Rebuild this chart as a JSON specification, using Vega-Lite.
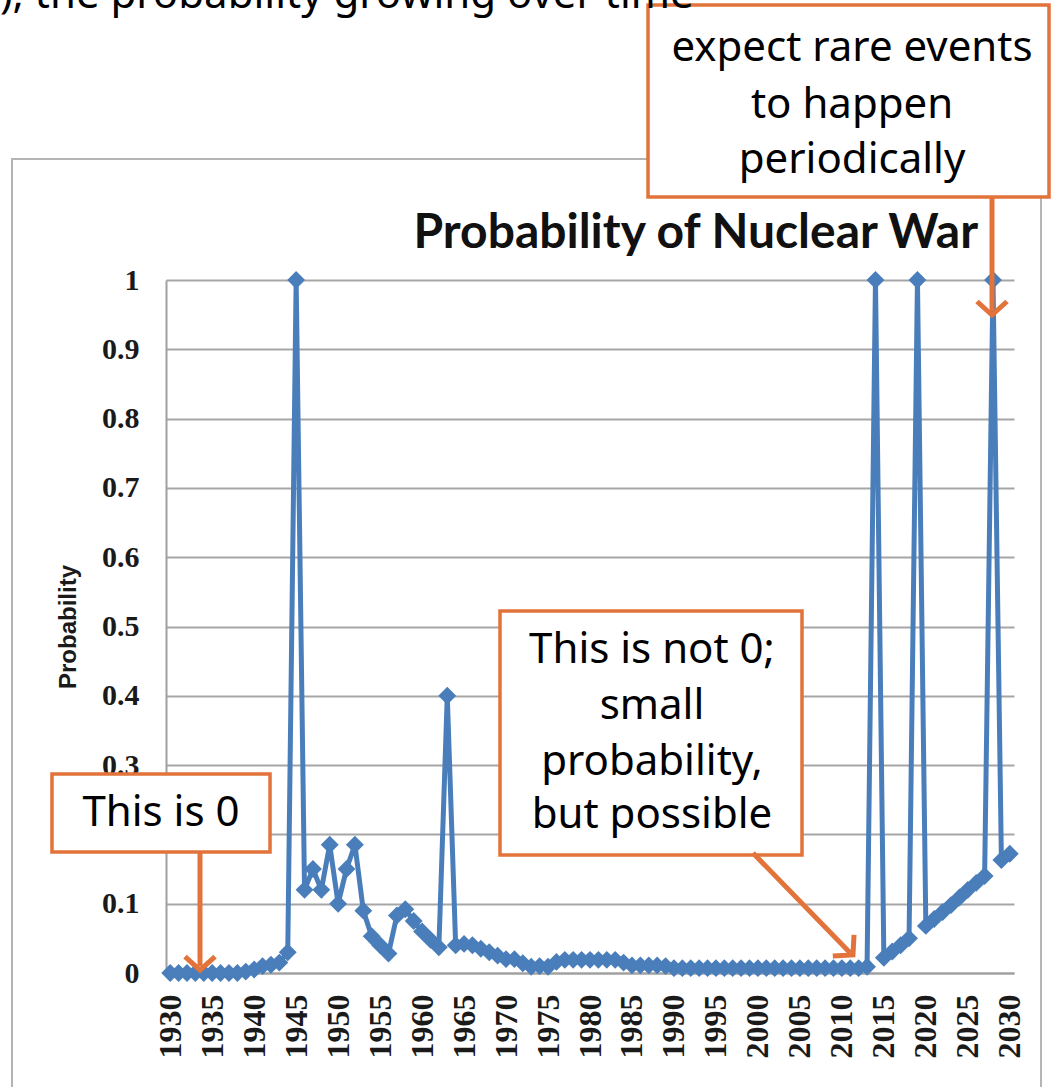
{
  "$schema": "https://vega.github.io/schema/vega-lite/v6.json",
  "width": 848,
  "height": 693,
  "autosize": "none",
  "padding": {"left": 166, "top": 280, "right": 38, "bottom": 114},
  "background": "white",
  "config": {"view": {"stroke": null}},
  "datasets": {
    "war": [
      {"year": 1930, "p": 0}, {"year": 1931, "p": 0}, {"year": 1932, "p": 0}, {"year": 1933, "p": 0},
      {"year": 1934, "p": 0}, {"year": 1935, "p": 0}, {"year": 1936, "p": 0}, {"year": 1937, "p": 0},
      {"year": 1938, "p": 0}, {"year": 1939, "p": 0.002}, {"year": 1940, "p": 0.005}, {"year": 1941, "p": 0.01},
      {"year": 1942, "p": 0.012}, {"year": 1943, "p": 0.015}, {"year": 1944, "p": 0.03}, {"year": 1945, "p": 1},
      {"year": 1946, "p": 0.12}, {"year": 1947, "p": 0.15}, {"year": 1948, "p": 0.12}, {"year": 1949, "p": 0.185},
      {"year": 1950, "p": 0.1}, {"year": 1951, "p": 0.15}, {"year": 1952, "p": 0.185}, {"year": 1953, "p": 0.09},
      {"year": 1954, "p": 0.053}, {"year": 1955, "p": 0.04}, {"year": 1956, "p": 0.028}, {"year": 1957, "p": 0.083},
      {"year": 1958, "p": 0.092}, {"year": 1959, "p": 0.075}, {"year": 1960, "p": 0.06}, {"year": 1961, "p": 0.048},
      {"year": 1962, "p": 0.037}, {"year": 1963, "p": 0.4}, {"year": 1964, "p": 0.04}, {"year": 1965, "p": 0.042},
      {"year": 1966, "p": 0.04}, {"year": 1967, "p": 0.035}, {"year": 1968, "p": 0.03}, {"year": 1969, "p": 0.025},
      {"year": 1970, "p": 0.02}, {"year": 1971, "p": 0.02}, {"year": 1972, "p": 0.014}, {"year": 1973, "p": 0.009},
      {"year": 1974, "p": 0.01}, {"year": 1975, "p": 0.009}, {"year": 1976, "p": 0.016}, {"year": 1977, "p": 0.019},
      {"year": 1978, "p": 0.019}, {"year": 1979, "p": 0.019}, {"year": 1980, "p": 0.019}, {"year": 1981, "p": 0.019},
      {"year": 1982, "p": 0.019}, {"year": 1983, "p": 0.019}, {"year": 1984, "p": 0.015}, {"year": 1985, "p": 0.011},
      {"year": 1986, "p": 0.011}, {"year": 1987, "p": 0.011}, {"year": 1988, "p": 0.011}, {"year": 1989, "p": 0.01},
      {"year": 1990, "p": 0.007}, {"year": 1991, "p": 0.007}, {"year": 1992, "p": 0.007}, {"year": 1993, "p": 0.007},
      {"year": 1994, "p": 0.007}, {"year": 1995, "p": 0.007}, {"year": 1996, "p": 0.007}, {"year": 1997, "p": 0.007},
      {"year": 1998, "p": 0.007}, {"year": 1999, "p": 0.007}, {"year": 2000, "p": 0.007}, {"year": 2001, "p": 0.007},
      {"year": 2002, "p": 0.007}, {"year": 2003, "p": 0.007}, {"year": 2004, "p": 0.007}, {"year": 2005, "p": 0.007},
      {"year": 2006, "p": 0.007}, {"year": 2007, "p": 0.007}, {"year": 2008, "p": 0.007}, {"year": 2009, "p": 0.007},
      {"year": 2010, "p": 0.007}, {"year": 2011, "p": 0.007}, {"year": 2012, "p": 0.007}, {"year": 2013, "p": 0.009},
      {"year": 2014, "p": 1}, {"year": 2015, "p": 0.022}, {"year": 2016, "p": 0.031}, {"year": 2017, "p": 0.04},
      {"year": 2018, "p": 0.05}, {"year": 2019, "p": 1}, {"year": 2020, "p": 0.068}, {"year": 2021, "p": 0.078},
      {"year": 2022, "p": 0.088}, {"year": 2023, "p": 0.098}, {"year": 2024, "p": 0.109}, {"year": 2025, "p": 0.12},
      {"year": 2026, "p": 0.13}, {"year": 2027, "p": 0.14}, {"year": 2028, "p": 1}, {"year": 2029, "p": 0.163},
      {"year": 2030, "p": 0.172}
    ],
    "frame": [{"x1": 1911.16, "x2": 2033.72, "y1": 1.1746, "y2": -0.1833}],
    "boxes": [
      {"x1": 1915.92, "x2": 1941.89, "y1": 0.2872, "y2": 0.1746},
      {"x1": 1969.28, "x2": 2005.25, "y1": 0.5224, "y2": 0.1703},
      {"x1": 1986.91, "x2": 2034.67, "y1": 1.3968, "y2": 1.1198}
    ],
    "notes": [
      {"x": 1928.9, "y": 0.2309, "t": "This is 0"},
      {"x": 1987.38, "y": 0.4661, "t": "This is not 0;"},
      {"x": 1987.38, "y": 0.3853, "t": "small"},
      {"x": 1987.38, "y": 0.3045, "t": "probability,"},
      {"x": 1987.38, "y": 0.2280, "t": "but possible"},
      {"x": 2011.21, "y": 1.3348, "t": "expect rare events"},
      {"x": 2011.21, "y": 1.2525, "t": "to happen"},
      {"x": 2011.21, "y": 1.1732, "t": "periodically"}
    ],
    "heading": [{"x": 1992.6, "y": 1.0462, "t": "Probability of Nuclear War"}],
    "topline": [{"x": 1909.73, "y": 1.3925, "t": "), the probability growing over time"}],
    "arrows": [
      {"x1": 1933.55, "y1": 0.1746, "x2": 1933.55, "y2": 0.01},
      {"x1": 1999.41, "y1": 0.1732, "x2": 2011.0, "y2": 0.029},
      {"x1": 2027.88, "y1": 1.1198, "x2": 2027.88, "y2": 0.955}
    ],
    "vheads": [
      {"x": 1933.55, "y": 0.0043},
      {"x": 2027.88, "y": 0.9495}
    ],
    "dheads": [
      {"x": 2011.32, "y": 0.026}
    ]
  },
  "layer": [
    {
      "data": {"name": "frame"},
      "mark": {"type": "rect", "fill": null, "stroke": "#b4b4b4", "strokeWidth": 2, "clip": false},
      "encoding": {
        "x": {"field": "x1", "type": "quantitative"},
        "x2": {"field": "x2"},
        "y": {"field": "y1", "type": "quantitative"},
        "y2": {"field": "y2"}
      }
    },
    {
      "data": {"name": "war"},
      "mark": {
        "type": "line",
        "color": "#4a7ebb",
        "strokeWidth": 5,
        "point": {"shape": "diamond", "size": 320, "filled": true, "color": "#4a7ebb"}
      },
      "encoding": {
        "x": {
          "field": "year",
          "type": "quantitative",
          "scale": {"domain": [1929.5, 2030.5], "nice": false, "zero": false},
          "axis": {
            "title": null,
            "values": [1930, 1935, 1940, 1945, 1950, 1955, 1960, 1965, 1970, 1975, 1980, 1985, 1990, 1995, 2000, 2005, 2010, 2015, 2020, 2025, 2030],
            "format": "d",
            "labelAngle": 270,
            "labelPadding": 21,
            "labelFont": "Liberation Serif",
            "labelFontWeight": "bold",
            "labelFontSize": 32,
            "labelColor": "#1a1a1a",
            "labelOverlap": false,
            "labelBound": false,
            "labelFlush": false,
            "ticks": false,
            "grid": false,
            "domain": true,
            "domainColor": "#a0a0a0",
            "domainWidth": 2
          }
        },
        "y": {
          "field": "p",
          "type": "quantitative",
          "scale": {"domain": [0, 1], "nice": false},
          "axis": {
            "title": "Probability",
            "titleFont": "Liberation Sans",
            "titleFontWeight": "bold",
            "titleFontSize": 24,
            "titleColor": "#1a1a1a",
            "titlePadding": 21,
            "values": [0, 0.1, 0.2, 0.3, 0.4, 0.5, 0.6, 0.7, 0.8, 0.9, 1],
            "format": "~g",
            "labelPadding": 27,
            "labelFont": "Liberation Serif",
            "labelFontWeight": "bold",
            "labelFontSize": 30,
            "labelColor": "#1a1a1a",
            "labelOverlap": false,
            "labelFlush": false,
            "ticks": false,
            "grid": true,
            "gridColor": "#a6a6a6",
            "gridWidth": 2,
            "domain": true,
            "domainColor": "#a0a0a0",
            "domainWidth": 2
          }
        }
      }
    },
    {
      "data": {"name": "heading"},
      "mark": {"type": "text", "align": "center", "baseline": "alphabetic", "font": "Lato", "fontSize": 48, "fontWeight": "bold", "color": "#111111", "clip": false},
      "encoding": {
        "x": {"field": "x", "type": "quantitative"},
        "y": {"field": "y", "type": "quantitative"},
        "text": {"field": "t"}
      }
    },
    {
      "data": {"name": "boxes"},
      "mark": {"type": "rect", "fill": "white", "stroke": "#e2733a", "strokeWidth": 3.5, "clip": false},
      "encoding": {
        "x": {"field": "x1", "type": "quantitative"},
        "x2": {"field": "x2"},
        "y": {"field": "y1", "type": "quantitative"},
        "y2": {"field": "y2"}
      }
    },
    {
      "data": {"name": "notes"},
      "mark": {"type": "text", "align": "center", "baseline": "middle", "font": "Noto Sans", "fontSize": 42, "color": "#000000", "clip": false},
      "encoding": {
        "x": {"field": "x", "type": "quantitative"},
        "y": {"field": "y", "type": "quantitative"},
        "text": {"field": "t"}
      }
    },
    {
      "data": {"name": "topline"},
      "mark": {"type": "text", "align": "left", "baseline": "alphabetic", "font": "Noto Sans", "fontSize": 42, "color": "#000000", "clip": false},
      "encoding": {
        "x": {"field": "x", "type": "quantitative"},
        "y": {"field": "y", "type": "quantitative"},
        "text": {"field": "t"}
      }
    },
    {
      "data": {"name": "arrows"},
      "mark": {"type": "rule", "color": "#e2733a", "strokeWidth": 5, "clip": false},
      "encoding": {
        "x": {"field": "x1", "type": "quantitative"},
        "y": {"field": "y1", "type": "quantitative"},
        "x2": {"field": "x2"},
        "y2": {"field": "y2"}
      }
    },
    {
      "data": {"name": "vheads"},
      "mark": {"type": "point", "shape": "M -1 -0.9 L 0 0 L 1 -0.9", "size": 900, "filled": false, "stroke": "#e2733a", "strokeWidth": 5, "opacity": 1, "clip": false},
      "encoding": {
        "x": {"field": "x", "type": "quantitative"},
        "y": {"field": "y", "type": "quantitative"}
      }
    },
    {
      "data": {"name": "dheads"},
      "mark": {"type": "point", "shape": "M -1 -0.9 L 0 0 L 1 -0.9", "size": 900, "angle": 315, "filled": false, "stroke": "#e2733a", "strokeWidth": 5, "opacity": 1, "clip": false},
      "encoding": {
        "x": {"field": "x", "type": "quantitative"},
        "y": {"field": "y", "type": "quantitative"}
      }
    }
  ]
}
